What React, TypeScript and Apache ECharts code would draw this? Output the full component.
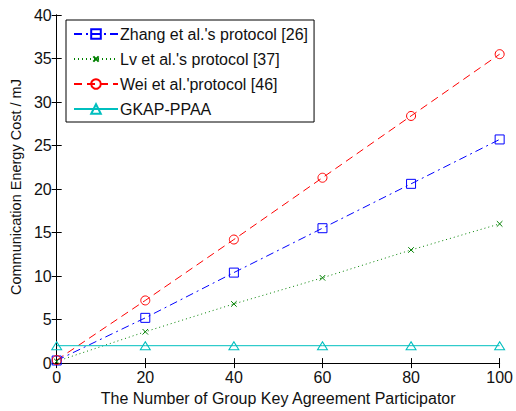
import React, { useEffect, useRef } from "react";
import * as echarts from "echarts";

const participants = [0, 20, 40, 60, 80, 100];
const zhang = [0.3, 5.2, 10.4, 15.5, 20.6, 25.7];
const lv = [0.2, 3.6, 6.8, 9.8, 13.0, 16.0];
const wei = [0.35, 7.2, 14.2, 21.3, 28.4, 35.5];
const gkap = [2.0, 2.0, 2.0, 2.0, 2.0, 2.0];

const seriesNames = [
  "Zhang et al.'s protocol [26]",
  "Lv et al.'s protocol [37]",
  "Wei et al.'protocol [46]",
  "GKAP-PPAA",
];

const FONT = "'Liberation Sans', Arial, sans-serif";

export default function App() {
  const ref = useRef<HTMLDivElement>(null);
  useEffect(() => {
    if (!ref.current) return;
    const chart = echarts.init(ref.current, null, { renderer: "svg" });
    const pts = (arr: number[]) => participants.map((x, i) => [x, arr[i]]);
    const axisCommon = {
      type: "value" as const,
      axisLine: { show: true, lineStyle: { color: "#000", width: 1 } },
      axisTick: { show: true, inside: true, length: 5, lineStyle: { color: "#000" } },
      splitLine: { show: false },
    };
    chart.setOption({
      animation: false,
      backgroundColor: "#fff",
      textStyle: { fontFamily: FONT },
      grid: { left: 56, right: 13, top: 15, bottom: 46 },
      legend: {
        orient: "vertical",
        left: 66,
        top: 20,
        padding: [6, 6, 5, 7],
        itemGap: 9,
        itemWidth: 44,
        itemHeight: 12,
        borderColor: "#000",
        borderWidth: 1,
        backgroundColor: "#fff",
        textStyle: { fontFamily: FONT, fontSize: 16, color: "#111", padding: [0, 0, 0, -3] },
        data: seriesNames,
      },
      xAxis: [
        {
          ...axisCommon,
          min: 0,
          max: 100,
          interval: 20,
          position: "bottom",
          name: "The Number of Group Key Agreement Participator",
          nameLocation: "middle",
          nameGap: 24,
          nameTextStyle: { fontFamily: FONT, fontSize: 16, color: "#111" },
          axisLabel: { fontFamily: FONT, fontSize: 16, color: "#111", margin: 6 },
        },
        {
          ...axisCommon,
          min: 0,
          max: 100,
          interval: 20,
          position: "top",
          axisLabel: { show: false },
        },
      ],
      yAxis: [
        {
          ...axisCommon,
          min: 0,
          max: 40,
          interval: 5,
          position: "left",
          name: "Communication Energy Cost / mJ",
          nameLocation: "middle",
          nameGap: 31,
          nameTextStyle: { fontFamily: FONT, fontSize: 14.5, color: "#111", padding: [0, 0, 0, 4] },
          axisLabel: { fontFamily: FONT, fontSize: 16, color: "#111", margin: 5 },
        },
        {
          ...axisCommon,
          min: 0,
          max: 40,
          interval: 5,
          position: "right",
          axisLabel: { show: false },
        },
      ],
      series: [
        {
          name: seriesNames[0],
          type: "line",
          data: pts(zhang),
          color: "#0000ff",
          symbol: "rect",
          symbolSize: 9,
          showAllSymbol: true,
          lineStyle: { color: "#0000ff", width: 1, type: [8, 4, 2, 4] },
          itemStyle: { color: "none", borderColor: "#0000ff", borderWidth: 1 },
        },
        {
          name: seriesNames[1],
          type: "line",
          data: pts(lv),
          color: "#008000",
          symbol: "path://M-4,-4M14,14M0,0L10,10M10,0L0,10",
          symbolSize: 10,
          lineStyle: { color: "#008000", width: 1, type: [1, 3] },
          itemStyle: { color: "none", borderColor: "#008000", borderWidth: 1 },
        },
        {
          name: seriesNames[2],
          type: "line",
          data: pts(wei),
          color: "#ff0000",
          symbol: "circle",
          symbolSize: 9,
          lineStyle: { color: "#ff0000", width: 1, type: [8, 5] },
          itemStyle: { color: "none", borderColor: "#ff0000", borderWidth: 1 },
        },
        {
          name: seriesNames[3],
          type: "line",
          data: pts(gkap),
          color: "#00bfbf",
          symbol: "triangle",
          symbolSize: [10, 8],
          lineStyle: { color: "#00bfbf", width: 1 },
          itemStyle: { color: "none", borderColor: "#00bfbf", borderWidth: 1 },
        },
      ],
    });
    return () => chart.dispose();
  }, []);
  return <div ref={ref} style={{ width: 516, height: 411, position: "absolute", left: 0, top: 0 }} />;
}
